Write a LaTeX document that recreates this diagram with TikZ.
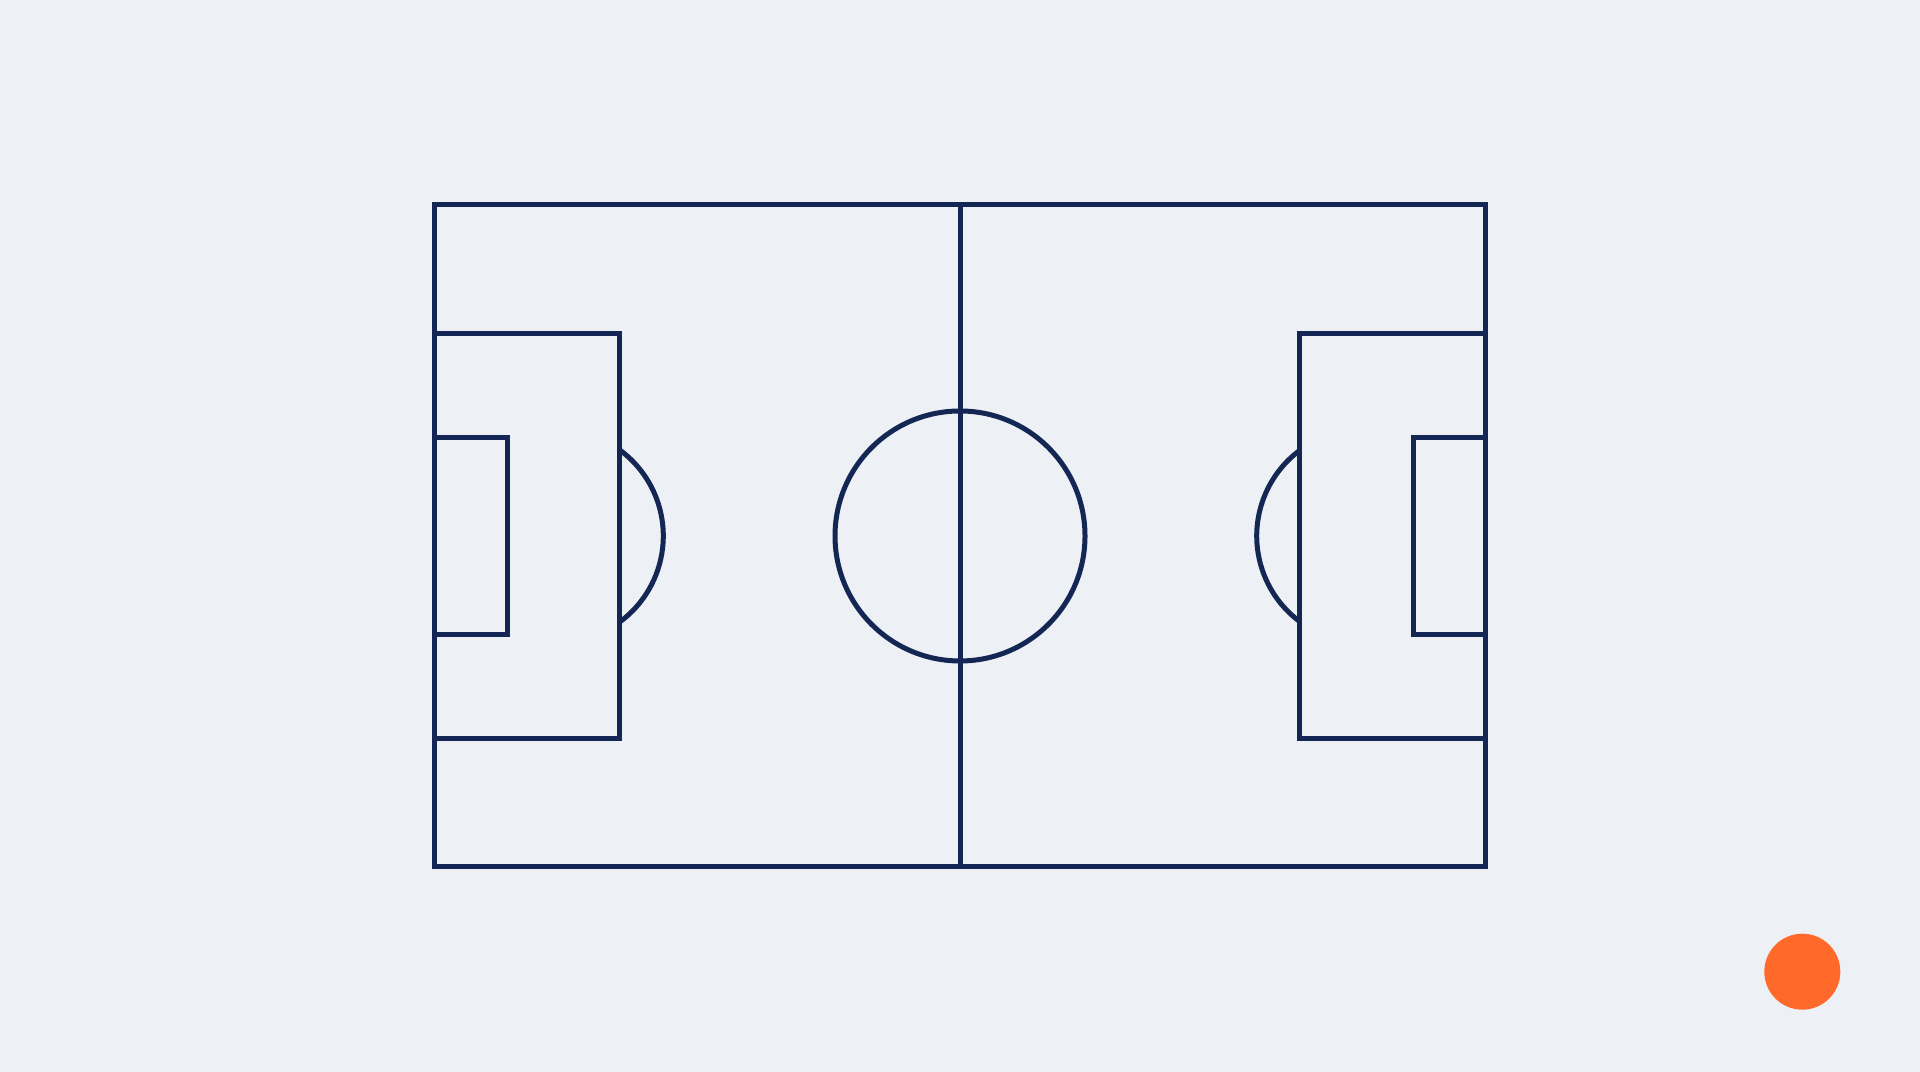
\documentclass[tikz,border=0pt]{standalone}
\usepackage{tikz}
\usepackage{color}

\definecolor{pitchbg}{RGB}{237,240,244}
\definecolor{pitchline}{RGB}{20,38,84}
\definecolor{ballorange}{RGB}{255,106,43}

\begin{document}
\begin{tikzpicture}[line width=0.05cm]
    \fill[pitchbg] (0, 0) rectangle (19.2, 10.72);

    \draw[pitchline] (4.347, 2.05) rectangle (14.853, 8.673);
    \draw[pitchline] (9.6, 2.05) -- (9.6, 8.673);
    \draw[pitchline] (9.6, 5.36) circle (1.25);

    \draw[pitchline] (4.347, 3.336) rectangle (6.197, 7.387);
    \draw[pitchline] (4.347, 4.373) rectangle (5.07, 6.347);
    \draw[pitchline] (5.566, 5.36) ++(53.5:1.067) arc[start angle=53.5, end angle=-53.5, radius=1.067];

    \draw[pitchline] (12.997, 3.336) rectangle (14.853, 7.387);
    \draw[pitchline] (14.13, 4.373) rectangle (14.853, 6.347);
    \draw[pitchline] (13.634, 5.36) ++(126.5:1.067) arc[start angle=126.5, end angle=233.5, radius=1.067];

    \fill[ballorange] (18.023, 1.003) circle (0.38);

    \end{tikzpicture}
\end{document}
